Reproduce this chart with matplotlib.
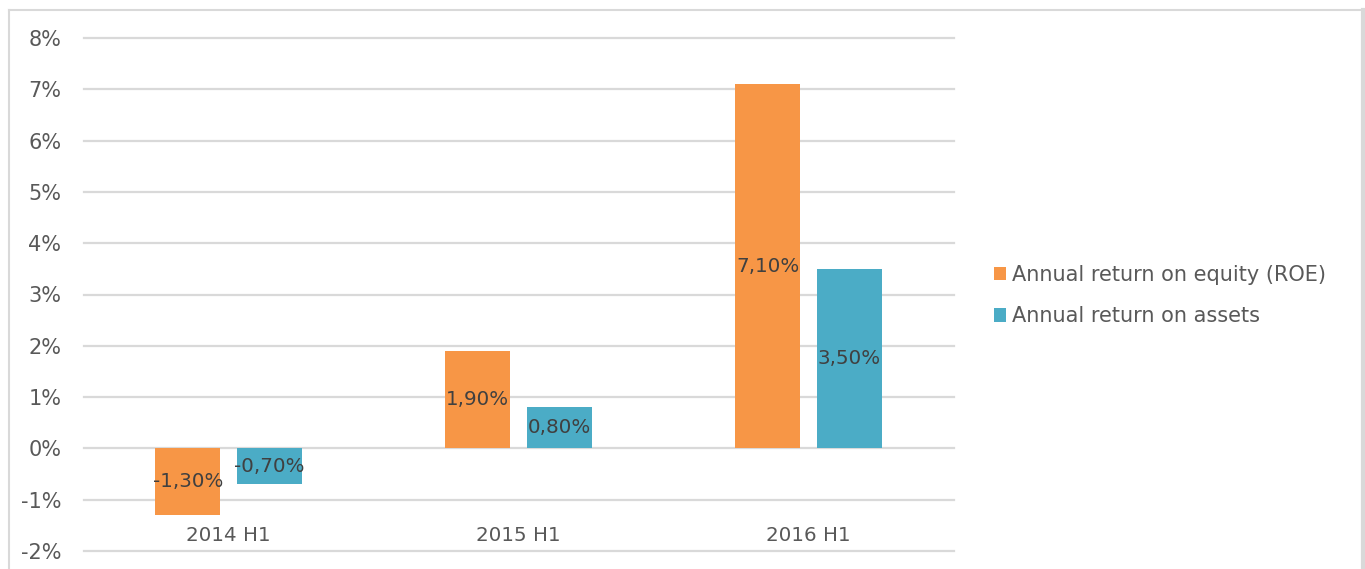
import matplotlib.pyplot as plt
import numpy as np
from matplotlib.lines import Line2D

# dati
periodi = ['2014 H1', '2015 H1', '2016 H1']
roe = [-1.30, 1.90, 7.10]
roa = [-0.70, 0.80, 3.50]
etichette_roe = ['-1,30%', '1,90%', '7,10%']
etichette_roa = ['-0,70%', '0,80%', '3,50%']
serie = ['Annual return on equity (ROE)', 'Annual return on assets']
tick_y = [-2, -1, 0, 1, 2, 3, 4, 5, 6, 7, 8]

arancio = '#F79646'
azzurro = '#4BACC6'
grigio = '#595959'

plt.rcParams['font.family'] = ['DejaVu Sans']

fig = plt.figure(figsize=(13.65, 5.69), dpi=100)
W, H = 1365, 569
ax = fig.add_axes([83.5 / W, (H - 551) / H, 870 / W, 513 / H])

x = np.arange(len(periodi))
larg = 0.224
off = 0.14
b1 = ax.bar(x - off, roe, larg, color=arancio, zorder=3, label=serie[0])
b2 = ax.bar(x + off, roa, larg, color=azzurro, zorder=3, label=serie[1])

for barre, testi in ((b1, etichette_roe), (b2, etichette_roa)):
    for b, t in zip(barre, testi):
        ax.text(b.get_x() + b.get_width() / 2, b.get_height() / 2, t,
                ha='center', va='center', fontsize=14.3, color='#404040', zorder=4)

ax.set_xlim(-0.5, len(periodi) - 0.5)
ax.set_ylim(-2, 8)
ax.set_yticks(tick_y)
ax.set_yticklabels([f'{v}%' for v in tick_y], fontsize=15, color=grigio)
ax.tick_params(axis='y', length=0, pad=16)
ax.set_xticks([])
ax.grid(axis='y', color='#D9D9D9', linewidth=1.6, zorder=0)
for g in ax.get_ygridlines():
    g.set_clip_on(False)
for s in ax.spines.values():
    s.set_visible(False)

# etichette categorie in basso
for xi, p in zip(x, periodi):
    ax.text(xi, 0.031, p, transform=ax.get_xaxis_transform(), ha='center', va='center',
            fontsize=14.3, color=grigio)

leg = fig.legend(handles=[b1, b2], labels=serie, loc='center left',
                 bbox_to_anchor=(975 / W, (H - 295.5) / H), frameon=False,
                 fontsize=15, handlelength=0.6, handleheight=0.6, handletextpad=0.3,
                 labelspacing=1.05)
for t in leg.get_texts():
    t.set_color(grigio)

# cornice del grafico
for xs, ys, lw in (([9, 9], [H, 10], 1.5), ([9, 1362], [10, 10], 1.5), ([1363, 1363], [10, H], 3)):
    fig.add_artist(Line2D([v / W for v in xs], [(H - v) / H for v in ys],
                          transform=fig.transFigure, color='#D9D9D9', linewidth=lw))

fig.savefig('out.png', dpi=100)
